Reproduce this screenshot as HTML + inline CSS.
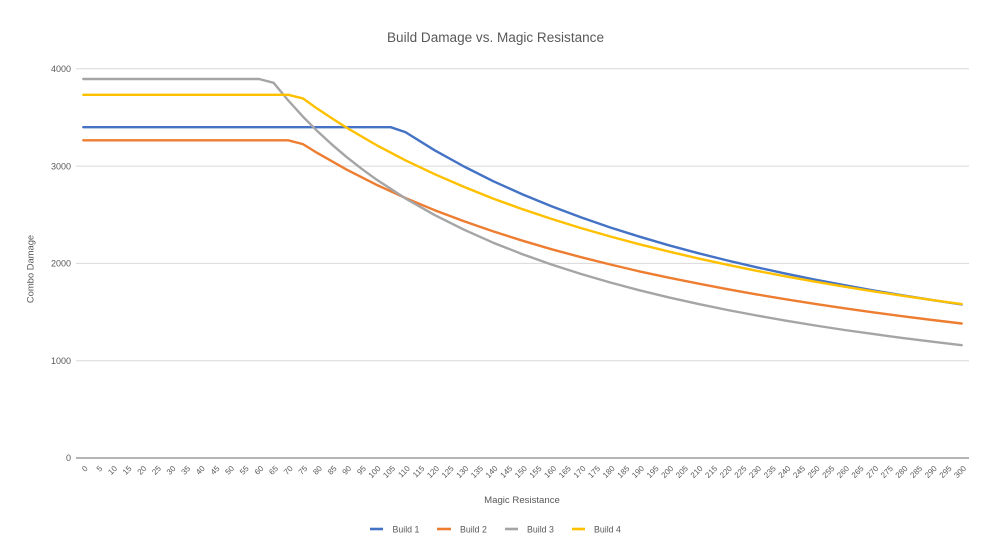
<!DOCTYPE html>
<html>
<head>
<meta charset="utf-8">
<style>
  html,body{margin:0;padding:0;background:#fff;}
  body{width:993px;height:542px;overflow:hidden;}
  svg{display:block;}
  text{font-family:"Liberation Sans",Arial,sans-serif;fill:#595959;}
</style>
</head>
<body>
<svg width="993" height="542" viewBox="0 0 993 542" xmlns="http://www.w3.org/2000/svg">
  <rect x="0" y="0" width="993" height="542" fill="#ffffff"/>
  <!-- Title -->
  <text x="495.5" y="42" font-size="13.5" text-anchor="middle" textLength="217" lengthAdjust="spacingAndGlyphs">Build Damage vs. Magic Resistance</text>

  <!-- gridlines -->
  <g stroke="#d9d9d9" stroke-width="1">
    <line x1="76" y1="68.8" x2="969" y2="68.8"/>
    <line x1="76" y1="166.1" x2="969" y2="166.1"/>
    <line x1="76" y1="263.4" x2="969" y2="263.4"/>
    <line x1="76" y1="360.7" x2="969" y2="360.7"/>
  </g>
  <line x1="76" y1="458" x2="969" y2="458" stroke="#898989" stroke-width="1.3"/>

  <!-- y tick labels -->
  <g font-size="9" text-anchor="end">
    <text x="71" y="72">4000</text>
    <text x="71" y="169.3">3000</text>
    <text x="71" y="266.6">2000</text>
    <text x="71" y="363.9">1000</text>
    <text x="71" y="461.2">0</text>
  </g>

  <!-- axis titles -->
  <text x="0" y="0" font-size="9.4" text-anchor="middle" transform="translate(33.5,269) rotate(-90)">Combo Damage</text>
  <text x="522" y="503" font-size="9.6" text-anchor="middle">Magic Resistance</text>

  <!-- x tick labels -->
  <g font-size="8" text-anchor="end">
    <text transform="translate(88.3,469) rotate(-45)">0</text>
    <text transform="translate(102.9,469) rotate(-45)">5</text>
    <text transform="translate(117.6,469) rotate(-45)">10</text>
    <text transform="translate(132.2,469) rotate(-45)">15</text>
    <text transform="translate(146.9,469) rotate(-45)">20</text>
    <text transform="translate(161.5,469) rotate(-45)">25</text>
    <text transform="translate(176.1,469) rotate(-45)">30</text>
    <text transform="translate(190.8,469) rotate(-45)">35</text>
    <text transform="translate(205.4,469) rotate(-45)">40</text>
    <text transform="translate(220.1,469) rotate(-45)">45</text>
    <text transform="translate(234.7,469) rotate(-45)">50</text>
    <text transform="translate(249.3,469) rotate(-45)">55</text>
    <text transform="translate(264.0,469) rotate(-45)">60</text>
    <text transform="translate(278.6,469) rotate(-45)">65</text>
    <text transform="translate(293.3,469) rotate(-45)">70</text>
    <text transform="translate(307.9,469) rotate(-45)">75</text>
    <text transform="translate(322.5,469) rotate(-45)">80</text>
    <text transform="translate(337.2,469) rotate(-45)">85</text>
    <text transform="translate(351.8,469) rotate(-45)">90</text>
    <text transform="translate(366.5,469) rotate(-45)">95</text>
    <text transform="translate(381.1,469) rotate(-45)">100</text>
    <text transform="translate(395.7,469) rotate(-45)">105</text>
    <text transform="translate(410.4,469) rotate(-45)">110</text>
    <text transform="translate(425.0,469) rotate(-45)">115</text>
    <text transform="translate(439.7,469) rotate(-45)">120</text>
    <text transform="translate(454.3,469) rotate(-45)">125</text>
    <text transform="translate(468.9,469) rotate(-45)">130</text>
    <text transform="translate(483.6,469) rotate(-45)">135</text>
    <text transform="translate(498.2,469) rotate(-45)">140</text>
    <text transform="translate(512.9,469) rotate(-45)">145</text>
    <text transform="translate(527.5,469) rotate(-45)">150</text>
    <text transform="translate(542.1,469) rotate(-45)">155</text>
    <text transform="translate(556.8,469) rotate(-45)">160</text>
    <text transform="translate(571.4,469) rotate(-45)">165</text>
    <text transform="translate(586.1,469) rotate(-45)">170</text>
    <text transform="translate(600.7,469) rotate(-45)">175</text>
    <text transform="translate(615.3,469) rotate(-45)">180</text>
    <text transform="translate(630.0,469) rotate(-45)">185</text>
    <text transform="translate(644.6,469) rotate(-45)">190</text>
    <text transform="translate(659.3,469) rotate(-45)">195</text>
    <text transform="translate(673.9,469) rotate(-45)">200</text>
    <text transform="translate(688.5,469) rotate(-45)">205</text>
    <text transform="translate(703.2,469) rotate(-45)">210</text>
    <text transform="translate(717.8,469) rotate(-45)">215</text>
    <text transform="translate(732.5,469) rotate(-45)">220</text>
    <text transform="translate(747.1,469) rotate(-45)">225</text>
    <text transform="translate(761.7,469) rotate(-45)">230</text>
    <text transform="translate(776.4,469) rotate(-45)">235</text>
    <text transform="translate(791.0,469) rotate(-45)">240</text>
    <text transform="translate(805.7,469) rotate(-45)">245</text>
    <text transform="translate(820.3,469) rotate(-45)">250</text>
    <text transform="translate(834.9,469) rotate(-45)">255</text>
    <text transform="translate(849.6,469) rotate(-45)">260</text>
    <text transform="translate(864.2,469) rotate(-45)">265</text>
    <text transform="translate(878.9,469) rotate(-45)">270</text>
    <text transform="translate(893.5,469) rotate(-45)">275</text>
    <text transform="translate(908.1,469) rotate(-45)">280</text>
    <text transform="translate(922.8,469) rotate(-45)">285</text>
    <text transform="translate(937.4,469) rotate(-45)">290</text>
    <text transform="translate(952.1,469) rotate(-45)">295</text>
    <text transform="translate(966.7,469) rotate(-45)">300</text>
  </g>

  <!-- series -->
  <g fill="none" stroke-width="2.4" stroke-linejoin="round" stroke-linecap="round">
    <!-- Build 1 -->
    <polyline stroke="#4472C4" points="83.3,127.2 390.7,127.2 405.4,132.1 434.7,150.3 464.0,166.5 493.2,181.2 522.5,194.4 551.8,206.4 581.1,217.4 610.3,227.5 639.6,236.7 668.9,245.3 698.2,253.2 727.5,260.5 756.7,267.3 786.0,273.7 815.3,279.7 844.6,285.2 873.9,290.5 903.1,295.4 932.4,300.1 961.7,304.5"/>
    <!-- Build 2 -->
    <polyline stroke="#ED7D31" points="83.3,140.3 288.3,140.3 302.9,144.1 317.5,153.1 346.8,169.7 376.1,184.6 405.4,198.0 434.7,210.2 464.0,221.3 493.2,231.4 522.5,240.7 551.8,249.3 581.1,257.2 610.3,264.5 639.6,271.4 668.9,277.7 698.2,283.6 727.5,289.2 756.7,294.4 786.0,299.3 815.3,303.9 844.6,308.3 873.9,312.4 903.1,316.3 932.4,320.0 961.7,323.5"/>
    <!-- Build 3 -->
    <polyline stroke="#A5A5A5" points="83.3,79.0 259.0,79.0 273.6,82.8 288.3,100.5 302.9,116.6 317.5,131.3 332.2,144.8 346.8,157.2 361.5,168.7 376.1,179.3 405.4,198.4 434.7,215.1 464.0,229.7 493.2,242.7 522.5,254.2 551.8,264.6 581.1,274.0 610.3,282.5 639.6,290.3 668.9,297.4 698.2,303.9 727.5,310.0 756.7,315.5 786.0,320.7 815.3,325.5 844.6,330.0 873.9,334.1 903.1,338.1 932.4,341.7 961.7,345.2"/>
    <!-- Build 4 -->
    <polyline stroke="#FFC000" points="83.3,94.8 288.3,94.8 302.9,98.4 317.5,108.8 332.2,118.5 346.8,127.8 376.1,144.9 405.4,160.3 434.7,174.2 464.0,186.9 493.2,198.6 522.5,209.2 551.8,219.0 581.1,228.1 610.3,236.5 639.6,244.3 668.9,251.6 698.2,258.4 727.5,264.8 756.7,270.8 786.0,276.4 815.3,281.7 844.6,286.7 873.9,291.4 903.1,295.8 932.4,300.1 961.7,304.1"/>
  </g>

  <!-- legend -->
  <g stroke-width="2.6">
    <line x1="370" y1="529" x2="383" y2="529" stroke="#4472C4"/>
    <line x1="437" y1="529" x2="451" y2="529" stroke="#ED7D31"/>
    <line x1="505" y1="529" x2="518" y2="529" stroke="#A5A5A5"/>
    <line x1="572" y1="529" x2="585" y2="529" stroke="#FFC000"/>
  </g>
  <g font-size="8.8">
    <text x="392.5" y="532.5">Build 1</text>
    <text x="460" y="532.5">Build 2</text>
    <text x="527" y="532.5">Build 3</text>
    <text x="594" y="532.5">Build 4</text>
  </g>
</svg>
</body>
</html>
